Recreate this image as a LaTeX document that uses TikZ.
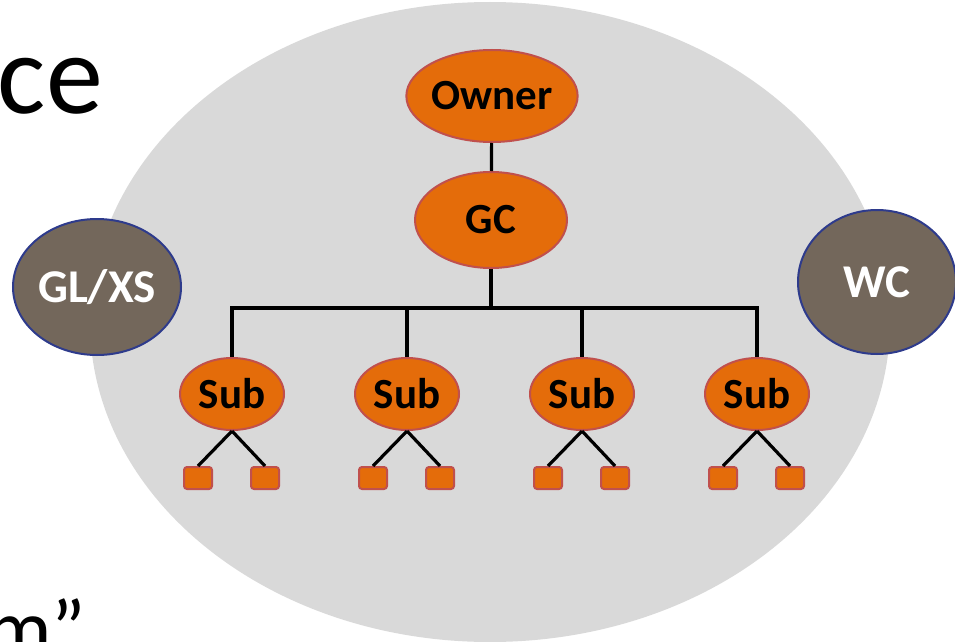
\documentclass[tikz,border=0pt]{standalone}
\usepackage{fontspec}
\setmainfont{Carlito}
\usetikzlibrary{shapes.geometric}

\definecolor{orgfill}{HTML}{E46C0A}
\definecolor{orgline}{HTML}{C0504D}
\definecolor{extfill}{HTML}{73675B}
\definecolor{extline}{HTML}{2E3B8C}
\definecolor{oval}{HTML}{D9D9D9}

\begin{document}
\begin{tikzpicture}[x=1pt,y=-1pt,
  party/.style={ellipse,draw=orgline,line width=2pt,fill=orgfill,inner sep=0pt,
    font=\fontsize{43}{43}\selectfont\bfseries},
  outside/.style={ellipse,draw=extline,line width=2pt,fill=extfill,text=white,inner sep=0pt,
    font=\fontsize{47}{47}\selectfont\bfseries},
  trade/.style={draw=orgline,line width=2pt,fill=orgfill,rounded corners=3pt,
    minimum width=28pt,minimum height=22pt,inner sep=0pt},
  link/.style={draw=black,line width=3.2pt}]
\useasboundingbox (0,0) rectangle (955,642);
\clip (0,0) rectangle (955,642);
% slide text
\node[anchor=base east,inner sep=0pt,font=\fontsize{114}{114}\selectfont] (title) at (103,113) {ce};
\node[anchor=base west,inner sep=0pt,font=\fontsize{82}{82}\selectfont] (quote) at (-14,656) {m”};
% project oval
\path[fill=oval] (490,322) ellipse [x radius=400pt, y radius=320pt];
% outside parties
\node[outside,minimum width=168pt,minimum height=136pt] (glxs) at (97,287) {GL/XS};
\node[outside,minimum width=158pt,minimum height=144pt] (wc) at (877,282) {WC};
% tree
\node[party,minimum width=134pt,minimum height=92pt] (owner) at (492,96) {Owner};
\node[party,minimum width=152pt,minimum height=96pt] (gc) at (491,220) {GC};
\coordinate (bus) at (491,308);
\draw[link] (owner) -- (gc);
\draw[link] (gc) -- (bus);
\foreach \x [count=\i] in {232,407,582,757} {
  \node[party,minimum width=104pt,minimum height=72pt] (sub\i) at (\x,394) {Sub};
  \node[trade] (sub\i l) at (\x-34,478) {};
  \node[trade] (sub\i r) at (\x+33,478) {};
  \draw[link] (bus) -| (sub\i.north);
  \draw[link] (sub\i.south) -- (sub\i l.north);
  \draw[link] (sub\i.south) -- (sub\i r.north);
}
\end{tikzpicture}
\end{document}
